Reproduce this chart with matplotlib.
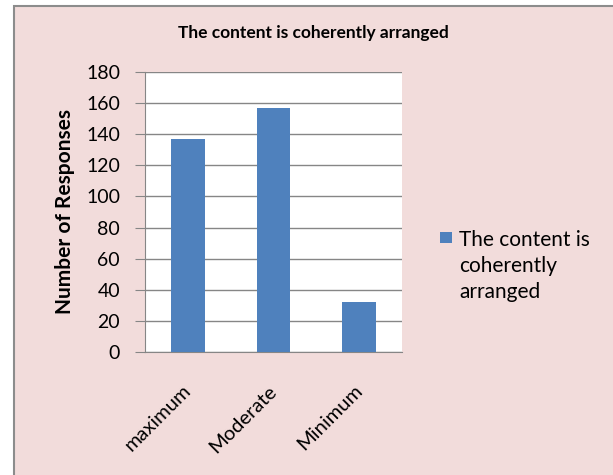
import matplotlib.pyplot as plt
from matplotlib.patches import Rectangle

categories = ["maximum", "Moderate", "Minimum"]
responses = [137, 157, 32]
series_name = "The content is\ncoherently\narranged"
title = "The content is coherently arranged"

bg = "#F2DCDB"
bar_color = "#4F81BD"
grid_color = "#868686"

plt.rcParams["font.family"] = ["Lato", "DejaVu Sans"]

fig = plt.figure(figsize=(6.13, 4.75), dpi=100)
fig.patch.set_facecolor("white")

# chart area with border (extends past right/bottom edge)
fig.patches.append(Rectangle((13.5 / 613, -0.1), 1.2, (475 - 6.5) / 475 + 0.1,
                             transform=fig.transFigure, facecolor=bg,
                             edgecolor="#8C8C8C", linewidth=1.5, zorder=-1))

ax = fig.add_axes([145 / 613, (475 - 352) / 475, 257 / 613, 280 / 475])
ax.set_facecolor("white")

x = range(len(categories))
ax.bar(x, responses, width=0.39, color=bar_color, zorder=3, label=series_name)

ax.set_xlim(-0.5, len(categories) - 0.5)
ax.set_ylim(0, 180)
ax.set_yticks(range(0, 181, 20))
ax.yaxis.grid(True, color=grid_color, linewidth=1)
ax.set_axisbelow(True)

for s in ["top", "right"]:
    ax.spines[s].set_visible(False)
ax.spines["left"].set_color(grid_color)
ax.spines["bottom"].set_color(grid_color)

ax.tick_params(axis="y", length=7, color=grid_color, labelsize=14, pad=11)
ax.tick_params(axis="x", length=0, labelsize=14.5, pad=26)
ax.set_xticks(list(x))
ax.set_xticklabels(categories, rotation=45, ha="right", va="center",
                   rotation_mode="anchor")

ax.set_ylabel("Number of Responses", fontsize=15, fontweight="bold", labelpad=8)

fig.text(313 / 613, 1 - 33 / 475, title, ha="center", va="center",
         fontsize=12.5, fontweight="bold")

# legend: square marker next to the first line of the wrapped series name
fig.patches.append(Rectangle((440 / 613, 1 - 243 / 475), 12 / 613, 11 / 475,
                             transform=fig.transFigure, facecolor=bar_color,
                             edgecolor="none"))
fig.text(459 / 613, 1 - 230 / 475, series_name, ha="left", va="top",
         fontsize=15, linespacing=1.38)

fig.savefig("out.png", dpi=100, facecolor=fig.get_facecolor())
